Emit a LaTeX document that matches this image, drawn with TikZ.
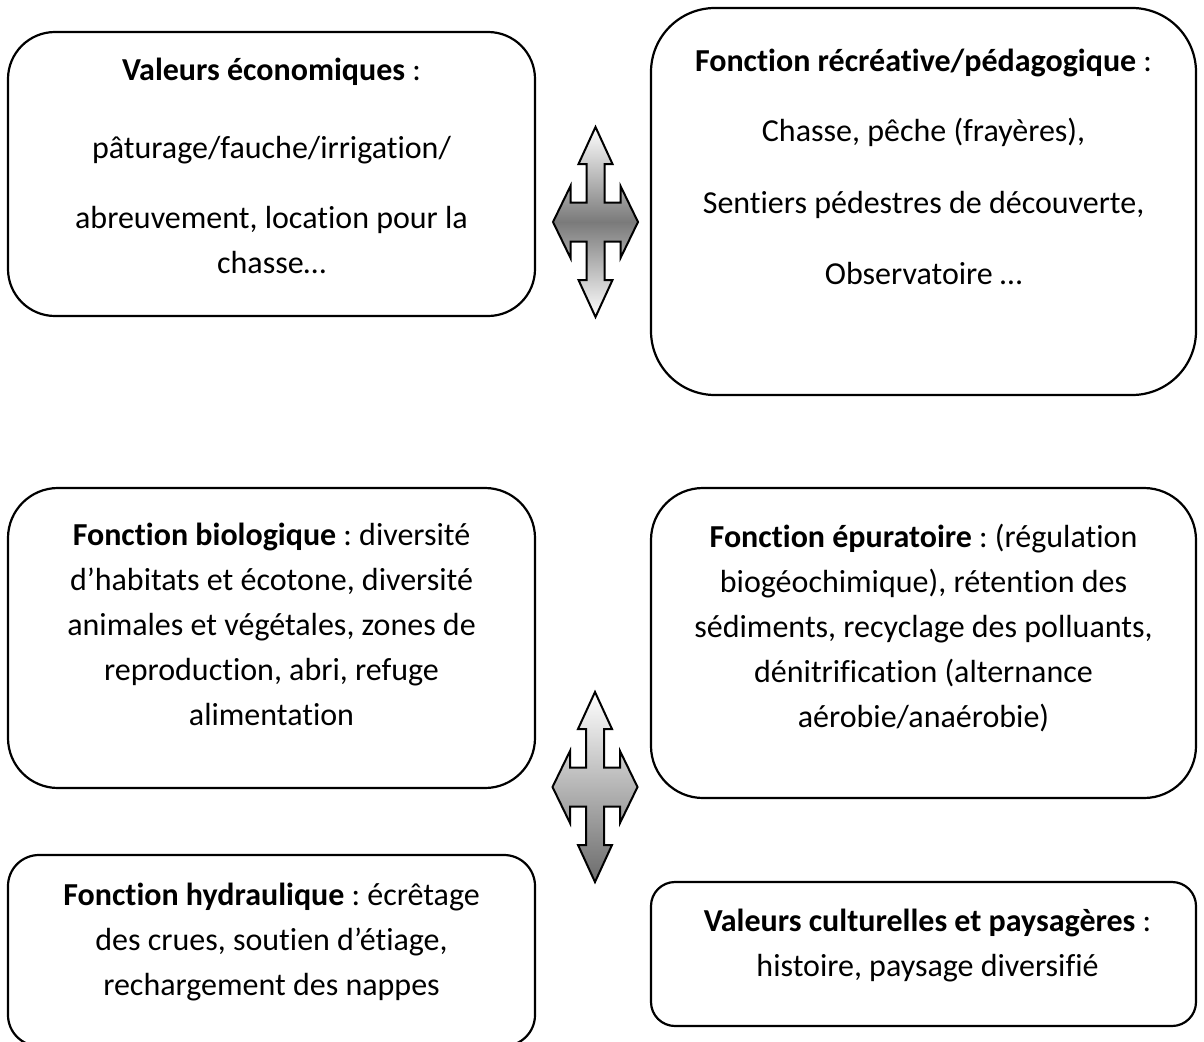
\documentclass[tikz,border=0pt]{standalone}
\usepackage{fontspec}
\setmainfont{Carlito}[Ligatures=NoCommon]
\usetikzlibrary{positioning}
\frenchspacing

\tikzset{
  boite/.style={draw=black, line width=2.2pt, inner sep=0pt, outer sep=0pt},
  texte/.style={align=center, inner sep=0pt, font=\fontsize{32}{45}\selectfont,
    execute at begin node=\strut},
  fleche/.style={draw=black, line width=2pt, line join=miter},
  pics/croix/.style={code={
    \draw[fleche,#1] (0,-95) -- (17,-58) -- (9,-58) -- (9,-19.5) -- (25,-19.5) -- (25,-36)
      -- (42.5,0) -- (25,36) -- (25,19.5) -- (9,19.5) -- (9,58) -- (17,58) -- (0,95)
      -- (-17,58) -- (-9,58) -- (-9,19.5) -- (-25,19.5) -- (-25,36) -- (-42.5,0)
      -- (-25,-36) -- (-25,-19.5) -- (-9,-19.5) -- (-9,-58) -- (-17,-58) -- cycle;
  }}
}

\begin{document}
\begin{tikzpicture}[x=1pt,y=-1pt]
  \useasboundingbox (0,0) rectangle (1204,1041);

  % the six boxes
  \node[boite, minimum width=527pt, minimum height=284pt, rounded corners=47pt] (eco) at (271.5,174) {};
  \node[boite, minimum width=545pt, minimum height=387pt, rounded corners=64pt] (loisir) at (923.5,201.5) {};
  \node[boite, minimum width=527pt, minimum height=300pt, rounded corners=50pt] (bio) at (271.5,638) {};
  \node[boite, minimum width=545pt, minimum height=310pt, rounded corners=52pt] (epur) at (923.5,643) {};
  \node[boite, minimum width=527pt, minimum height=191pt, rounded corners=31pt] (hydro) at (271.5,950.5) {};
  \node[boite, minimum width=545pt, minimum height=144pt, rounded corners=24pt] (cult) at (923.5,954) {};

  % the texts
  \node[texte, below=25.5pt of eco.north] (ecotxt) {\textbf{Valeurs économiques} :\\[33pt]
    pâturage/fauche/irrigation/\\[25pt] abreuvement, location pour la\\ chasse…};
  \node[texte, below=41pt of loisir.north] (loisirtxt) {\textbf{Fonction récréative/pédagogique} :\\[25pt]
    Chasse, pêche (frayères),\\[27pt] Sentiers pédestres de découverte,\\[26pt] Observatoire …};
  \node[texte, below=35pt of bio.north] (biotxt) {\textbf{Fonction biologique} : diversité\\
    d’habitats et écotone, diversité\\ animales et végétales, zones de\\
    reproduction, abri, refuge\\ alimentation};
  \node[texte, below=36pt of epur.north] (epurtxt) {\textbf{Fonction épuratoire} : (régulation\\
    biogéochimique), rétention des\\ sédiments, recyclage des polluants,\\
    dénitrification (alternance\\ aérobie/anaérobie)};
  \node[texte, below=27.5pt of hydro.north] (hydrotxt) {\textbf{Fonction hydraulique} : écrêtage\\
    des crues, soutien d’étiage,\\ rechargement des nappes};
  \node[texte, below=27pt of cult.north, xshift=4pt] (culttxt) {\textbf{Valeurs culturelles et paysagères} :\\
    histoire, paysage diversifié};

  % the two four-way arrows
  \pic (haut) at (595.5,222) {croix={top color=white, bottom color=white, middle color=black!52}};
  \pic (bas) at (595,787) {croix={top color=white, bottom color=black!58}};
\end{tikzpicture}
\end{document}
